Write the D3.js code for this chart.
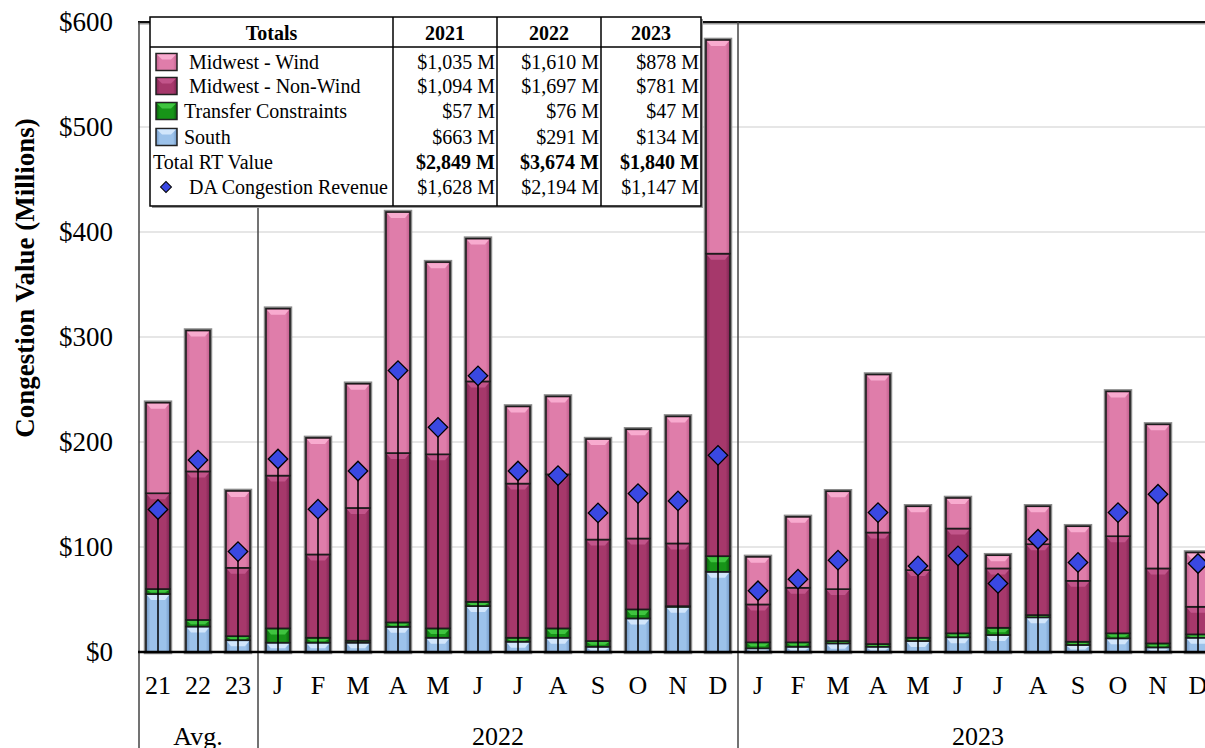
<!DOCTYPE html>
<html><head><meta charset="utf-8">
<script src="https://cdn.jsdelivr.net/npm/d3@7"></script>
<style>body{margin:0;background:#fff}svg{display:block}text{font-family:"Liberation Serif","Times New Roman",serif}</style>
</head><body><svg id="c" width="1205" height="748"></svg>
<script>
const categories = ["21","22","23","J","F","M","A","M","J","J","A","S","O","N","D","J","F","M","A","M","J","J","A","S","O","N","D"];
const groups = [{label:"Avg.", from:0, to:2},{label:"2022", from:3, to:14},{label:"2023", from:15, to:26}];
const south    = [55.25,24.25,11.2, 8.9,8.9,8.9,24,13.6,43.7,9.8,13.6,5,32,43,76.4, 3.5,5,8.2,5,10.5,14,16.2,33,6.7,13,4.4,13.6];
const transfer = [4.75,6.33,3.9, 13.6,4.7,1.9,4.2,8.9,4.1,3.8,8.9,5.5,8.6,0.7,14.9, 5.7,4.2,2.3,2.6,3.1,3.8,6.9,2.2,3.1,4.8,3.8,3.2];
const nonWind  = [91.2,141.4,65.1, 145.5,79.3,126.4,161.3,165.8,209.9,146.8,146.7,96.6,67.5,59.7,288.1, 36.1,52,49.4,106.2,64.4,99.8,56.5,67.5,58,92.5,71.4,26.3];
const wind     = [86.25,134.2,73.2, 159,111,118.3,229.5,183,136,73.5,74.2,95.7,104,121,203.5, 45.3,67.5,93.2,150.5,60.8,29.1,12.6,36.1,52,137.9,137.2,51.7];
const daRevenue= [135.7,182.8,95.6, 183.8,136,172.4,268,214,263,172.4,168,132.5,150.9,143.9,187.3, 58.3,69.4,87.5,132.8,82,91.6,65.3,107.4,85.3,132.8,150.2,84.3];
const yTicks = [0,100,200,300,400,500,600];
const seriesNames = ["South","Transfer Constraints","Midwest - Non-Wind","Midwest - Wind"];
const tableYears = ["2021","2022","2023"];
const tableRows = [
  {name:"Midwest - Wind", key:"Midwest - Wind", vals:["$1,035 M","$1,610 M","$878 M"]},
  {name:"Midwest - Non-Wind", key:"Midwest - Non-Wind", vals:["$1,094 M","$1,697 M","$781 M"]},
  {name:"Transfer Constraints", key:"Transfer Constraints", vals:["$57 M","$76 M","$47 M"]},
  {name:"South", key:"South", vals:["$663 M","$291 M","$134 M"]},
  {name:"Total RT Value", key:null, vals:["$2,849 M","$3,674 M","$1,840 M"], bold:true},
  {name:"DA Congestion Revenue", key:"DA", vals:["$1,628 M","$2,194 M","$1,147 M"]}
];

const colors = {
  "South": {base:"#9CC2EA", light:"#D2E6FB", dark:"#6F96C4"},
  "Transfer Constraints": {base:"#179418", light:"#3FC43F", dark:"#0A5C0C"},
  "Midwest - Non-Wind": {base:"#A6386B", light:"#C2548A", dark:"#7A2250"},
  "Midwest - Wind": {base:"#DF7DAA", light:"#F8ABCF", dark:"#C05E8C"}
};

const svg = d3.select("#c");
const defs = svg.append("defs");
Object.entries(colors).forEach(([k,c],i)=>{
  const g = defs.append("linearGradient").attr("id","g"+i).attr("x1","0").attr("x2","1").attr("y1","0").attr("y2","0");
  g.append("stop").attr("offset","0").attr("stop-color",c.dark);
  g.append("stop").attr("offset","0.18").attr("stop-color",c.base);
  g.append("stop").attr("offset","0.5").attr("stop-color",c.base);
  g.append("stop").attr("offset","0.82").attr("stop-color",c.base);
  g.append("stop").attr("offset","1").attr("stop-color",c.dark);
  c.grad = "url(#g"+i+")";
});

const idx = d3.range(categories.length);
const x = d3.scaleBand().domain(idx).range([138,1218]).paddingInner(0.4).paddingOuter(0.2);
const y = d3.scaleLinear().domain([0,600]).range([652,22]);

// gridlines
svg.append("g").selectAll("line").data(yTicks.filter(t=>t>0 && t<600)).join("line")
  .attr("x1",139).attr("x2",1205).attr("y1",d=>y(d)).attr("y2",d=>y(d))
  .attr("stroke","#dedede").attr("stroke-width",1.5);

// frame top & left
svg.append("line").attr("x1",138).attr("x2",1205).attr("y1",y(600)+1.5).attr("y2",y(600)+1.5).attr("stroke","#999").attr("stroke-width",2);
svg.append("line").attr("x1",138).attr("x2",1205).attr("y1",y(600)).attr("y2",y(600)).attr("stroke","#111").attr("stroke-width",2);
// group separators
const sepX = [x.range()[0]+1].concat(groups.slice(1).map(g=>x(g.from)-x.step()*x.paddingInner()/2));
svg.append("g").selectAll("line").data(sepX).join("line")
  .attr("x1",d=>d).attr("x2",d=>d).attr("y1",y(600)).attr("y2",748)
  .attr("stroke","#444").attr("stroke-width",1.5);

// y tick labels
svg.append("g").selectAll("text").data(yTicks).join("text")
  .attr("x",113).attr("y",d=>y(d)).attr("dy","0.35em").attr("text-anchor","end")
  .attr("font-size",27).text(d=>"$"+d);
// y title
svg.append("text").attr("transform","translate(34,278) rotate(-90)").attr("text-anchor","middle")
  .attr("font-size",27).attr("font-weight","bold").text("Congestion Value (Millions)");

// stacked bars
const rows = idx.map(i=>({i, "South":south[i], "Transfer Constraints":transfer[i], "Midwest - Non-Wind":nonWind[i], "Midwest - Wind":wind[i]}));
const stack = d3.stack().keys(seriesNames)(rows);
const bw = x.bandwidth();
const total = d => d.South+d["Transfer Constraints"]+d["Midwest - Non-Wind"]+d["Midwest - Wind"];
// outer shadow
svg.append("g").selectAll("rect").data(rows).join("rect")
  .attr("x",d=>x(d.i)).attr("width",bw)
  .attr("y",d=>y(total(d))).attr("height",d=>y(0)-y(total(d)))
  .attr("fill","none").attr("stroke","#8a8a8a").attr("stroke-width",4.5);
stack.forEach(s=>{
  const c = colors[s.key];
  const g = svg.append("g");
  g.selectAll("rect").data(s).join("rect")
    .attr("x",d=>x(d.data.i)).attr("width",bw)
    .attr("y",d=>y(d[1])).attr("height",d=>Math.max(0,y(d[0])-y(d[1])))
    .attr("fill",c.grad);
  g.selectAll("path").data(s).join("path")
    .attr("d",d=>{
      const x0=x(d.data.i), y1=y(d[1]), h=Math.min(5,(y(d[0])-y(d[1]))/2);
      return `M${x0+1},${y1+1}L${x0+bw-1},${y1+1}L${x0+bw-5},${y1+1+h}L${x0+5},${y1+1+h}Z`;
    })
    .attr("fill",c.light);
  g.selectAll("rect.o").data(s).join("rect").attr("class","o")
    .attr("x",d=>x(d.data.i)).attr("width",bw)
    .attr("y",d=>y(d[1])).attr("height",d=>Math.max(0,y(d[0])-y(d[1])))
    .attr("fill","none").attr("stroke","#1c1c1c").attr("stroke-width",1.6);
});

// DA drop lines and diamonds
svg.append("g").selectAll("line").data(idx).join("line")
  .attr("x1",i=>x(i)+bw/2).attr("x2",i=>x(i)+bw/2).attr("y1",i=>y(daRevenue[i])).attr("y2",y(0))
  .attr("stroke","#000").attr("stroke-width",1.5);
const diamond = d3.symbol(d3.symbolSquare, 190);
svg.append("g").selectAll("path").data(idx).join("path")
  .attr("d",diamond).attr("transform",i=>`translate(${x(i)+bw/2},${y(daRevenue[i])}) rotate(45)`)
  .attr("fill","#3A48E2").attr("stroke","#000").attr("stroke-width",1.3);

// x axis line
svg.append("line").attr("x1",138).attr("x2",1205).attr("y1",y(0)).attr("y2",y(0)).attr("stroke","#000").attr("stroke-width",2.5);
// category labels
svg.append("g").selectAll("text").data(idx).join("text")
  .attr("x",i=>x(i)+bw/2).attr("y",694).attr("text-anchor","middle").attr("font-size",26).text(i=>categories[i]);
// group labels
svg.append("g").selectAll("text").data(groups).join("text")
  .attr("x",g=>(x(g.from)+x(g.to)+bw)/2).attr("y",745).attr("text-anchor","middle").attr("font-size",26).text(g=>g.label);

// legend table
const L = svg.append("g");
const lx=150, ly=17, lw=551, lh=189;
const colX = [lx, 393, 497, 601, lx+lw];
L.append("rect").attr("x",lx+2).attr("y",ly+2).attr("width",lw).attr("height",lh).attr("fill","#999");
L.append("rect").attr("x",lx).attr("y",ly).attr("width",lw).attr("height",lh).attr("fill","#fff").attr("stroke","#000").attr("stroke-width",1.5);
L.append("line").attr("x1",lx).attr("x2",lx+lw).attr("y1",47).attr("y2",47).attr("stroke","#000").attr("stroke-width",1.5);
L.selectAll("line.v").data(colX.slice(1,4)).join("line").attr("class","v")
  .attr("x1",d=>d).attr("x2",d=>d).attr("y1",ly).attr("y2",ly+lh).attr("stroke","#000").attr("stroke-width",1.5);
L.append("text").attr("x",(colX[0]+colX[1])/2).attr("y",40).attr("text-anchor","middle").attr("font-size",20).attr("font-weight","bold").text("Totals");
L.selectAll("text.yr").data(tableYears).join("text").attr("class","yr")
  .attr("x",(d,i)=>(colX[i+1]+colX[i+2])/2).attr("y",40).attr("text-anchor","middle").attr("font-size",20).attr("font-weight","bold").text(d=>d);
const rowY = [62,86,111,137,162,187];
tableRows.forEach((r,ri)=>{
  const cy = rowY[ri];
  let tx = lx+3;
  if (r.key && colors[r.key]) {
    const c = colors[r.key];
    const mx = lx+6, mw=21, mh=17, my=cy-mh/2;
    L.append("rect").attr("x",mx).attr("y",my).attr("width",mw).attr("height",mh).attr("fill",c.grad).attr("stroke","#222").attr("stroke-width",1.5);
    L.append("path").attr("d",`M${mx+1},${my+1}L${mx+mw-1},${my+1}L${mx+mw-6},${my+6}L${mx+6},${my+6}Z`).attr("fill",c.light);
    tx = (ri<2) ? lx+39 : lx+34;
  } else if (r.key==="DA") {
    L.append("path").attr("d",d3.symbol(d3.symbolSquare,60)).attr("transform",`translate(${lx+16},${cy}) rotate(45)`)
      .attr("fill","#3A48E2").attr("stroke","#000").attr("stroke-width",1);
    tx = lx+39;
  }
  L.append("text").attr("x",tx).attr("y",cy).attr("dy","0.35em").attr("font-size",20).text(r.name);
  r.vals.forEach((v,vi)=>{
    L.append("text").attr("x",colX[vi+2]-2).attr("y",cy).attr("dy","0.35em").attr("text-anchor","end")
      .attr("font-size",20).attr("font-weight",r.bold?"bold":"normal").text(v);
  });
});
</script></body></html>
